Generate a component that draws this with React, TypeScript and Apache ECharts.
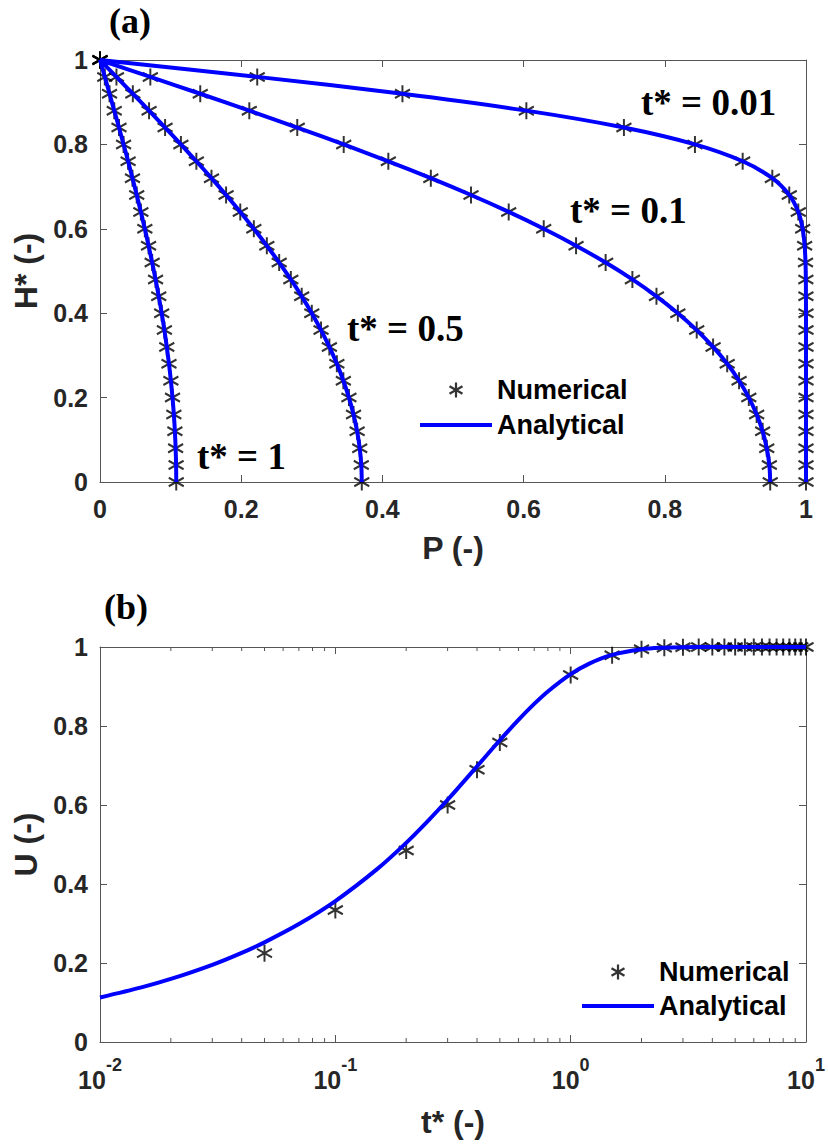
import React, { useEffect, useRef } from "react";
import * as echarts from "echarts";

// ---------- Data ----------
// Panel (a): dimensionless height H* and pore pressure P for four times
const H_STAR = [1, 0.96, 0.92, 0.88, 0.84, 0.8, 0.76, 0.72, 0.68, 0.64, 0.6, 0.56, 0.52, 0.48, 0.44, 0.4, 0.36, 0.32, 0.28, 0.24, 0.2, 0.16, 0.12, 0.08, 0.04, 0];
const P_T001 = [0, 0.2227, 0.4284, 0.6039, 0.7421, 0.8427, 0.9103, 0.9523, 0.9763, 0.9891, 0.9953, 0.9981, 0.9993, 0.9998, 0.9999, 1, 1, 1, 1, 1, 1, 1, 1, 1, 1, 1];
const P_T01 = [0, 0.0713, 0.142, 0.2115, 0.2794, 0.3452, 0.4084, 0.4686, 0.5255, 0.5789, 0.6285, 0.6743, 0.7162, 0.7541, 0.7882, 0.8185, 0.8452, 0.8684, 0.8884, 0.9052, 0.919, 0.9301, 0.9386, 0.9444, 0.9481, 0.9493];
const P_T05 = [0, 0.0233, 0.0465, 0.0695, 0.0922, 0.1146, 0.1365, 0.1579, 0.1786, 0.1987, 0.2179, 0.2363, 0.2538, 0.2703, 0.2857, 0.3, 0.3131, 0.3249, 0.3355, 0.3447, 0.3526, 0.3591, 0.3642, 0.3679, 0.3701, 0.3708];
const P_T1 = [0, 0.0068, 0.0135, 0.0202, 0.0269, 0.0334, 0.0398, 0.046, 0.052, 0.0579, 0.0635, 0.0688, 0.0739, 0.0787, 0.0832, 0.0874, 0.0912, 0.0946, 0.0977, 0.1004, 0.1027, 0.1046, 0.1061, 0.1071, 0.1078, 0.108];
const CURVE_LABELS = ["t* = 0.01", "t* = 0.1", "t* = 0.5", "t* = 1"];

// Panel (b): degree of consolidation U against t*
const T_NUM = [0.05, 0.1, 0.2, 0.3, 0.4, 0.5, 1, 1.5, 2, 2.5, 3, 3.5, 4, 4.5, 5, 5.5, 6, 6.5, 7, 7.5, 8, 8.5, 9, 9.5, 10];
const U_NUM = [0.225, 0.334, 0.485, 0.6, 0.689, 0.758, 0.929, 0.979, 0.994, 0.998, 0.9995, 1, 1, 1, 1, 1, 1, 1, 1, 1, 1, 1, 1, 1, 1];
const T_AN = [0.01, 0.015, 0.02, 0.03, 0.04, 0.05, 0.07, 0.1, 0.15, 0.2, 0.25, 0.3, 0.4, 0.5, 0.6, 0.7, 0.8, 1, 1.2, 1.5, 2, 2.5, 3, 4, 5, 7, 10];
const U_AN = [0.1128, 0.1382, 0.1596, 0.1954, 0.2257, 0.2523, 0.2985, 0.3568, 0.437, 0.5042, 0.5625, 0.6132, 0.6979, 0.7639, 0.8155, 0.8559, 0.8874, 0.9313, 0.958, 0.98, 0.9942, 0.9983, 0.9995, 1, 1, 1, 1];
const LOG_MINOR_TICKS = [0.02, 0.03, 0.04, 0.05, 0.06, 0.07, 0.08, 0.09, 0.2, 0.3, 0.4, 0.5, 0.6, 0.7, 0.8, 0.9, 2, 3, 4, 5, 6, 7, 8, 9];

// ---------- Styles ----------
const SANS = '"Liberation Sans", Arial, Helvetica, sans-serif';
const SERIF = '"Liberation Serif", "Times New Roman", serif';
const AXIS_COLOR = "#555555";
const LABEL_COLOR = "#262626";
const BLUE = "#0000ff";
const ASTERISK = "path://M0,-1L0,1M-0.866,-0.5L0.866,0.5M-0.866,0.5L0.866,-0.5";

const GRID_A = { left: 100, top: 60, width: 706, height: 422 };
const GRID_B = { left: 100, top: 647, width: 706, height: 395 };

const tickLabel = { fontFamily: SANS, fontWeight: "bold", fontSize: 25, color: LABEL_COLOR } as const;
const nameStyle = { fontFamily: SANS, fontWeight: "bold", fontSize: 32, color: LABEL_COLOR } as const;

function mainAxisCommon() {
  return {
    axisLine: { show: true, onZero: false, lineStyle: { color: AXIS_COLOR, width: 1 } },
    axisTick: { show: true, inside: true, length: 7, lineStyle: { color: AXIS_COLOR } },
    splitLine: { show: false },
  };
}
function mirrorAxisCommon() {
  return {
    axisLine: { show: true, onZero: false, lineStyle: { color: AXIS_COLOR, width: 1 } },
    axisTick: { show: true, inside: true, length: 7, lineStyle: { color: AXIS_COLOR } },
    axisLabel: { show: false },
    splitLine: { show: false },
  };
}

function scatterSeries(xIdx: number, yIdx: number, data: number[][]) {
  return {
    type: "scatter",
    name: "Numerical",
    xAxisIndex: xIdx,
    yAxisIndex: yIdx,
    data,
    symbol: ASTERISK,
    symbolSize: [15, 17],
    itemStyle: { color: "rgba(0,0,0,0)", borderColor: "#000000", borderWidth: 2.1 },
    clip: false,
    silent: true,
    z: 2,
  };
}
function lineSeries(xIdx: number, yIdx: number, data: number[][]) {
  return {
    type: "line",
    name: "Analytical",
    xAxisIndex: xIdx,
    yAxisIndex: yIdx,
    data,
    symbol: "none",
    showSymbol: false,
    smooth: 0.3,
    lineStyle: { color: BLUE, width: 4 },
    itemStyle: { color: BLUE },
    clip: false,
    silent: true,
    z: 3,
  };
}

function legendFor(left: number, top: number, gap: number) {
  return {
    left,
    top,
    orient: "vertical",
    padding: 0,
    itemWidth: 72,
    itemHeight: 15,
    itemGap: gap,
    selectedMode: false,
    textStyle: { fontFamily: SANS, fontWeight: "bold", fontSize: 27, color: "#000", lineHeight: 30 },
    data: [
      { name: "Numerical", icon: ASTERISK, itemStyle: { color: "rgba(0,0,0,0)", borderColor: "#000", borderWidth: 2.2 } },
      { name: "Analytical", icon: "path://M0,0L72,0L72,4L0,4Z", itemStyle: { color: BLUE, borderWidth: 0 } },
    ],
  };
}

export default function App() {
  const ref = useRef<HTMLDivElement | null>(null);

  useEffect(() => {
    document.body.style.margin = "0";
    if (!ref.current) return;
    const chart = echarts.init(ref.current, null, { renderer: "svg" });

    const pairs = (xs: number[], ys: number[]) => xs.map((x, i) => [x, ys[i]]);
    const topCurves = [P_T001, P_T01, P_T05, P_T1];
    const topSeries: any[] = [];
    topCurves.forEach((p) => topSeries.push(scatterSeries(0, 0, pairs(p, H_STAR))));
    topCurves.forEach((p) => topSeries.push(lineSeries(0, 0, pairs(p, H_STAR))));

    const labelPos = [
      [641, 102],
      [570, 210],
      [347, 328],
      [197, 456],
    ];

    const option: any = {
      animation: false,
      backgroundColor: "#ffffff",
      grid: [
        { ...GRID_A, containLabel: false },
        { ...GRID_B, containLabel: false },
      ],
      xAxis: [
        {
          gridIndex: 0,
          type: "value",
          position: "bottom",
          min: 0,
          max: 1,
          interval: 0.2,
          ...mainAxisCommon(),
          axisLabel: { ...tickLabel, margin: 14 },
          name: "P (-)",
          nameLocation: "middle",
          nameGap: 50,
          nameTextStyle: nameStyle,
        },
        { gridIndex: 0, type: "value", position: "top", min: 0, max: 1, interval: 0.2, ...mirrorAxisCommon() },
        {
          gridIndex: 1,
          type: "log",
          logBase: 10,
          position: "bottom",
          min: 0.01,
          max: 10,
          ...mainAxisCommon(),
          axisLabel: {
            margin: 14,
            formatter: (v: number) => `{b|10}{s|${Math.round(Math.log10(v))}}`,
            rich: {
              b: { fontFamily: SANS, fontWeight: "bold", fontSize: 25, color: LABEL_COLOR, lineHeight: 36, verticalAlign: "bottom" },
              s: { fontFamily: SANS, fontWeight: "bold", fontSize: 18, color: LABEL_COLOR, lineHeight: 20, verticalAlign: "top" },
            },
          },
          name: "t* (-)",
          nameLocation: "middle",
          nameGap: 64,
          nameTextStyle: nameStyle,
        },
        { gridIndex: 1, type: "log", logBase: 10, position: "top", min: 0.01, max: 10, ...mirrorAxisCommon() },
      ],
      yAxis: [
        {
          gridIndex: 0,
          type: "value",
          position: "left",
          min: 0,
          max: 1,
          interval: 0.2,
          ...mainAxisCommon(),
          axisLabel: { ...tickLabel, margin: 12 },
          name: "H* (-)",
          nameLocation: "middle",
          nameRotate: 90,
          nameGap: 54,
          nameTextStyle: nameStyle,
        },
        { gridIndex: 0, type: "value", position: "right", min: 0, max: 1, interval: 0.2, ...mirrorAxisCommon() },
        {
          gridIndex: 1,
          type: "value",
          position: "left",
          min: 0,
          max: 1,
          interval: 0.2,
          ...mainAxisCommon(),
          axisLabel: { ...tickLabel, margin: 12 },
          name: "U (-)",
          nameLocation: "middle",
          nameRotate: 90,
          nameGap: 54,
          nameTextStyle: nameStyle,
        },
        { gridIndex: 1, type: "value", position: "right", min: 0, max: 1, interval: 0.2, ...mirrorAxisCommon() },
      ],
      legend: [legendFor(420, 375, 5), legendFor(582, 957, 4)],
      graphic: [
        { type: "text", x: 130, y: 21, style: { text: "(a)", font: `bold 36px ${SERIF}`, fill: "#000", align: "center", verticalAlign: "middle" } },
        { type: "text", x: 126, y: 607, style: { text: "(b)", font: `bold 36px ${SERIF}`, fill: "#000", align: "center", verticalAlign: "middle" } },
        ...CURVE_LABELS.map((t, i) => ({
          type: "text",
          x: labelPos[i][0],
          y: labelPos[i][1],
          style: { text: t, font: `bold 37px ${SERIF}`, fill: "#000", align: "left", verticalAlign: "middle" },
        })),
      ],
      series: [
        ...topSeries,
        scatterSeries(2, 2, pairs(T_NUM, U_NUM)),
        lineSeries(2, 2, pairs(T_AN, U_AN)),
        {
          type: "custom",
          name: "minorTicks",
          xAxisIndex: 2,
          yAxisIndex: 2,
          silent: true,
          data: LOG_MINOR_TICKS.map((v) => [v, 0]),
          encode: { x: 0, y: 1 },
          renderItem: (params: any, api: any) => {
            const v = api.value(0);
            const b = api.coord([v, 0]);
            const t = api.coord([v, 1]);
            const st = { stroke: AXIS_COLOR, lineWidth: 1 };
            return {
              type: "group",
              children: [
                { type: "line", shape: { x1: b[0], y1: b[1], x2: b[0], y2: b[1] - 4 }, style: st },
                { type: "line", shape: { x1: t[0], y1: t[1], x2: t[0], y2: t[1] + 4 }, style: st },
              ],
            };
          },
          z: 1,
        },
      ],
    };

    chart.setOption(option);
    return () => chart.dispose();
  }, []);

  return <div ref={ref} style={{ width: 828, height: 1148 }} />;
}
